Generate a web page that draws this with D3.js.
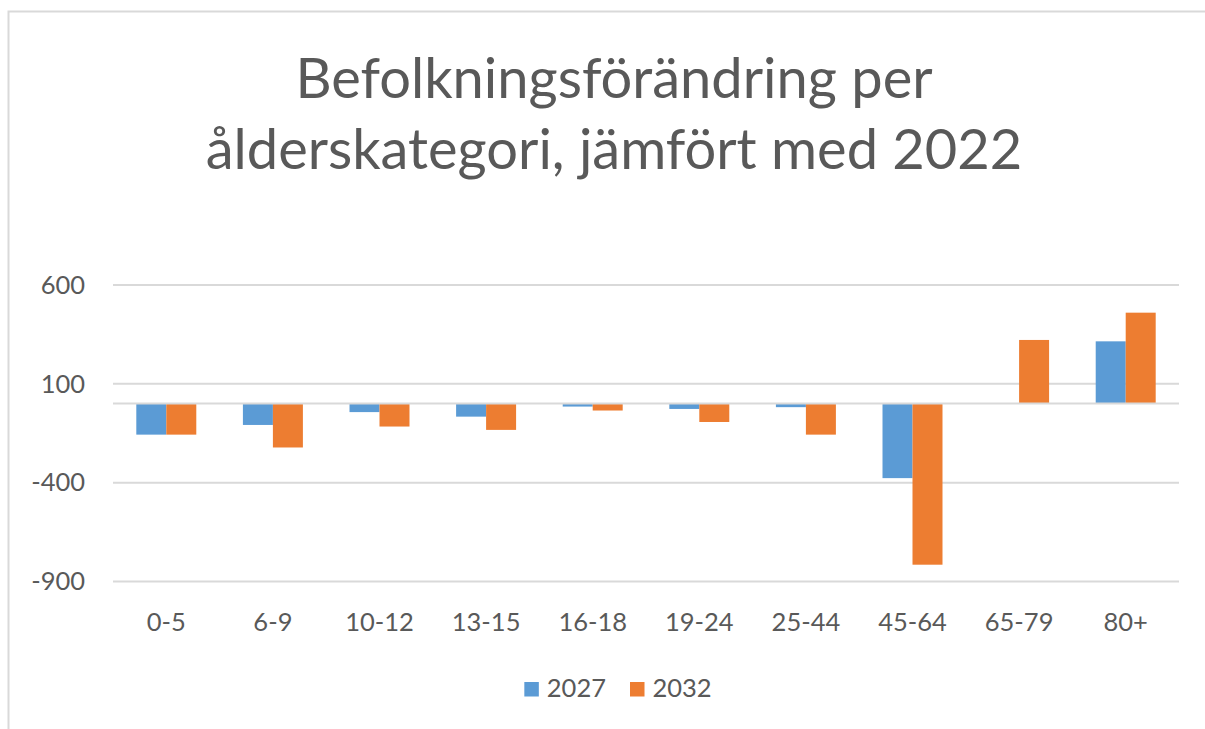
<!DOCTYPE html>
<html>
<head>
<meta charset="utf-8">
<script src="https://cdn.jsdelivr.net/npm/d3@7"></script>
<style>
  html, body { margin: 0; padding: 0; background: #fff; }
  svg { display: block; }
  text { font-family: Lato, "Open Sans", sans-serif; fill: #595959; }
</style>
</head>
<body>
<svg id="chart"></svg>
<script>
// Chart data
const categories = ['0-5', '6-9', '10-12', '13-15', '16-18', '19-24', '25-44', '45-64', '65-79', '80+'];
const seriesNames = ['2027', '2032'];
const values2027 = [-157, -108, -43, -66, -15, -27, -18, -377, 0, 315];
const values2032 = [-157, -222, -116, -133, -35, -93, -157, -815, 322, 460];
const yTickValues = [-900, -400, 100, 600];
const titleLines = ['Befolkningsförändring per', 'ålderskategori, jämfört med 2022'];
const seriesColors = ['#5B9BD5', '#ED7D31'];

const width = 1205;
const height = 729;

// plot area
const plotLeft = 113;
const plotRight = 1179;
const plotTop = 285;
const plotBottom = 581.5;

const gridColor = '#D9D9D9';

const svg = d3.select('#chart')
  .attr('width', width)
  .attr('height', height);

// white background and chart frame (only top and left edge visible)
svg.append('rect')
  .attr('width', width)
  .attr('height', height)
  .attr('fill', '#fff');

svg.append('rect')
  .attr('x', 8.5)
  .attr('y', 11.5)
  .attr('width', 1300)
  .attr('height', 900)
  .attr('fill', 'none')
  .attr('stroke', gridColor)
  .attr('stroke-width', 2);

// Title
const title = svg.append('text')
  .attr('text-anchor', 'middle')
  .style('font-size', '56px');

titleLines.forEach((line, i) => {
  title.append('tspan')
    .attr('x', 614)
    .attr('y', 98 + i * 71)
    .text(line);
});

// Scales
const x0 = d3.scaleBand()
  .domain(categories)
  .range([plotLeft, plotRight]);

const x1 = d3.scaleBand()
  .domain(seriesNames)
  .range([0, x0.bandwidth()])
  .paddingOuter(0.777);

const y = d3.scaleLinear()
  .domain([-900, 600])
  .range([plotBottom, plotTop]);

// Gridlines
svg.append('g')
  .attr('class', 'grid')
  .selectAll('line')
  .data(yTickValues)
  .enter().append('line')
  .attr('x1', plotLeft)
  .attr('x2', plotRight)
  .attr('y1', d => y(d))
  .attr('y2', d => y(d))
  .attr('stroke', gridColor)
  .attr('stroke-width', 2);

// Y axis labels (plain hyphen for negatives, like the original)
const yAxis = svg.append('g')
  .attr('transform', `translate(${plotLeft},0)`)
  .call(d3.axisLeft(y)
    .tickValues(yTickValues)
    .tickFormat(d => String(d))
    .tickSize(0)
    .tickPadding(28));

yAxis.select('.domain').remove();
yAxis.selectAll('text')
  .attr('fill', '#595959')
  .style('font-family', 'Lato, sans-serif')
  .style('font-size', '25.5px');

// Bars
const rows = categories.map((c, i) => ({
  category: c,
  values: [
    { series: seriesNames[0], value: values2027[i] },
    { series: seriesNames[1], value: values2032[i] }
  ]
}));

const color = d3.scaleOrdinal()
  .domain(seriesNames)
  .range(seriesColors);

svg.append('g')
  .attr('class', 'bars')
  .selectAll('g')
  .data(rows)
  .enter().append('g')
  .attr('transform', d => `translate(${x0(d.category)},0)`)
  .selectAll('rect')
  .data(d => d.values)
  .enter().append('rect')
  .attr('x', d => x1(d.series))
  .attr('width', x1.bandwidth())
  .attr('y', d => y(Math.max(0, d.value)))
  .attr('height', d => Math.abs(y(d.value) - y(0)))
  .attr('fill', d => color(d.series));

// Zero line on top of the bars
svg.append('line')
  .attr('x1', plotLeft)
  .attr('x2', plotRight)
  .attr('y1', y(0))
  .attr('y2', y(0))
  .attr('stroke', gridColor)
  .attr('stroke-width', 2);

// Category labels
const xAxis = svg.append('g')
  .attr('transform', `translate(0,${plotBottom})`)
  .call(d3.axisBottom(x0).tickSize(0).tickPadding(31));

xAxis.select('.domain').remove();
xAxis.selectAll('text')
  .attr('fill', '#595959')
  .style('font-family', 'Lato, sans-serif')
  .style('font-size', '25.5px');

// Legend, centered under the chart
const legend = svg.append('g').attr('class', 'legend');
const swatch = 14.5;
const swatchGap = 8;
const itemGap = 24;

const items = legend.selectAll('g')
  .data(seriesNames)
  .enter().append('g');

items.append('rect')
  .attr('width', swatch)
  .attr('height', swatch)
  .attr('y', 682)
  .attr('fill', d => color(d));

items.append('text')
  .attr('x', swatch + swatchGap)
  .attr('y', 697)
  .style('font-size', '25.5px')
  .text(d => d);

let offsets = [];
let total = 0;
items.each(function (d, i) {
  const w = swatch + swatchGap + d3.select(this).select('text').node().getComputedTextLength();
  offsets.push(total);
  total += w + (i < seriesNames.length - 1 ? itemGap : 0);
});
const legendStart = 618 - total / 2;
items.attr('transform', (d, i) => `translate(${legendStart + offsets[i]},0)`);
</script>
</body>
</html>
